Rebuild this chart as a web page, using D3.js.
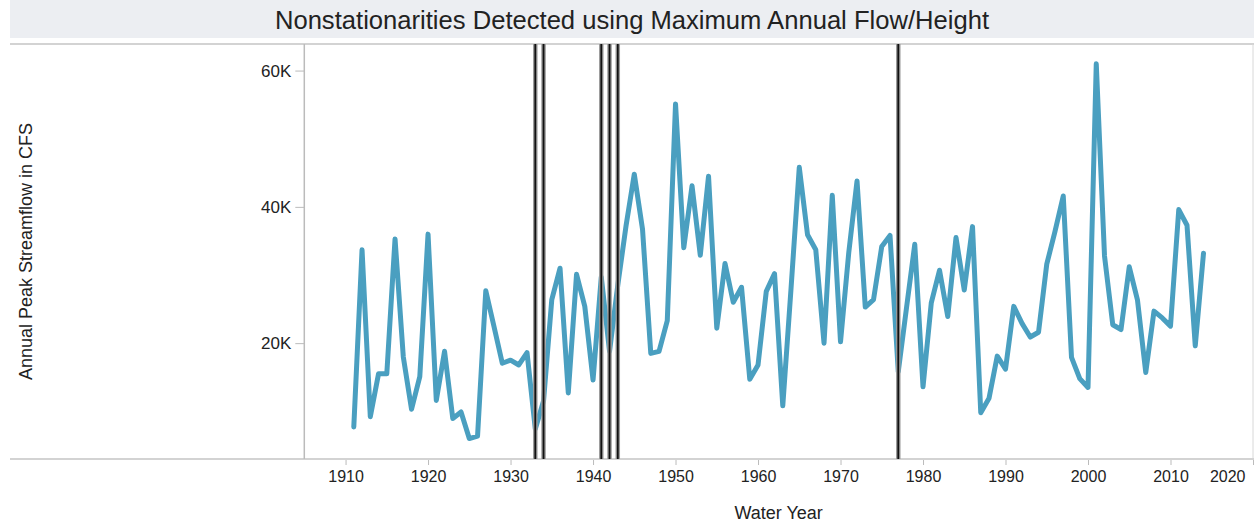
<!DOCTYPE html>
<html>
<head>
<meta charset="utf-8">
<script src="https://cdn.jsdelivr.net/npm/d3@7"></script>
<style>
  body { margin: 0; background: #fff; }
  svg text { font-family: Arial, "Liberation Sans", sans-serif; fill: #222; }
</style>
</head>
<body>
<div id="chart"></div>
<script>
// water years and annual peak streamflow (cfs)
const years = [];
for (let yr = 1911; yr <= 2014; yr++) years.push(yr);

const peaks = [
  7700, 33700, 9200, 15500, 15500, 35300, 18000, 10300, 15100, 36000,  // 1911-1920
  11600, 18800, 8950, 9900, 6000, 6350, 27700, 22400, 17050, 17500,    // 1921-1930
  16800, 18600, 7400, 11500, 26400, 31000, 12700, 30100, 25400, 14600, // 1931-1940
  29700, 18800, 28500, 37200, 44800, 36700, 18500, 18800, 23300, 55100, // 1941-1950
  34000, 43100, 32900, 44500, 22200, 31700, 26000, 28200, 14700, 16800, // 1951-1960
  27600, 30200, 10800, 28000, 45800, 35900, 33700, 20000, 41700, 20200, // 1961-1970
  33300, 43800, 25300, 26400, 34200, 35800, 15800, 25200, 34500, 13600, // 1971-1980
  25900, 30700, 23900, 35500, 27800, 37100, 9800, 11900, 18100, 16200,  // 1981-1990
  25400, 22900, 20900, 21600, 31600, 36400, 41600, 17900, 14800, 13500, // 1991-2000
  61000, 32800, 22700, 22000, 31200, 26300, 15700, 24700, 23700, 22500, // 2001-2010
  39600, 37300, 19600, 33200                                             // 2011-2014
];

// years where a nonstationarity was detected
const changeYears = [1933, 1934, 1941, 1942, 1943, 1977];

const xTicks = [1910, 1920, 1930, 1940, 1950, 1960, 1970, 1980, 1990, 2000, 2010, 2020];
const yTicks = [20000, 40000, 60000];

const data = years.map((yr, i) => ({year: yr, value: peaks[i]}));

const width = 1254;
const height = 523;
// pane edges
const paneLeft = 304.3, paneRight = 1253, paneTop = 44, paneBottom = 459;

const svg = d3.select("#chart")
  .append("svg")
  .attr("width", width)
  .attr("height", height);

// title band
svg.append("rect")
  .attr("x", 10).attr("y", 0)
  .attr("width", width - 10).attr("height", 38)
  .attr("fill", "#eceef2");

svg.append("text")
  .attr("x", (10 + width) / 2)
  .attr("y", 20)
  .attr("text-anchor", "middle")
  .attr("dominant-baseline", "central")
  .attr("font-size", "25.6px")
  .text("Nonstationarities Detected using Maximum Annual Flow/Height");

// scales
const x = d3.scaleLinear().domain([1905, 2020]).range([paneLeft, paneRight]);
const y = d3.scaleLinear().domain([3000, 63900]).range([paneBottom, paneTop]);

// pane borders
svg.append("line")
  .attr("x1", 10).attr("x2", width)
  .attr("y1", paneTop).attr("y2", paneTop)
  .attr("stroke", "#d3d3d3").attr("stroke-width", 2);

svg.append("line")
  .attr("x1", x(2020)).attr("x2", x(2020))
  .attr("y1", paneTop).attr("y2", paneBottom)
  .attr("stroke", "#d8d8d8").attr("stroke-width", 1);

// x axis
const xAxis = svg.append("g")
  .attr("transform", `translate(0,${paneBottom})`)
  .call(d3.axisBottom(x).tickValues(xTicks).tickFormat(d3.format("d")).tickSize(6).tickPadding(6));

xAxis.select(".domain").remove();
xAxis.selectAll(".tick line").attr("stroke", "#bbb");
xAxis.selectAll(".tick text")
  .attr("font-size", "16px")
  .attr("font-family", null)
  .attr("fill", "#222");
// last label is pushed in so it stays inside the view
xAxis.selectAll(".tick text")
  .filter(d => d === 2020)
  .attr("text-anchor", "end")
  .attr("dx", -8);

svg.append("line")
  .attr("x1", 10).attr("x2", width)
  .attr("y1", paneBottom).attr("y2", paneBottom)
  .attr("stroke", "#d3d3d3").attr("stroke-width", 2);

// y axis
const yAxis = svg.append("g")
  .attr("transform", `translate(${paneLeft},0)`)
  .call(d3.axisLeft(y).tickValues(yTicks).tickFormat(d => (d / 1000) + "K").tickSize(9).tickPadding(4));

yAxis.select(".domain")
  .attr("d", `M0,${paneTop}V${paneBottom}`)
  .attr("stroke", "#bbb")
  .attr("stroke-width", 1.5);
yAxis.selectAll(".tick line").attr("stroke", "#bbb");
yAxis.selectAll(".tick text")
  .attr("font-size", "17px")
  .attr("font-family", null)
  .attr("fill", "#222");

// axis titles
svg.append("text")
  .attr("x", (paneLeft + paneRight) / 2)
  .attr("y", 513)
  .attr("text-anchor", "middle")
  .attr("dominant-baseline", "central")
  .attr("font-size", "18px")
  .text("Water Year");

svg.append("text")
  .attr("transform", `translate(26,${(paneTop + paneBottom) / 2}) rotate(-90)`)
  .attr("text-anchor", "middle")
  .attr("dominant-baseline", "central")
  .attr("font-size", "18px")
  .text("Annual Peak Streamflow in CFS");

// flow line
const line = d3.line()
  .x(d => x(d.year))
  .y(d => y(d.value));

svg.append("path")
  .datum(data)
  .attr("d", line)
  .attr("fill", "none")
  .attr("stroke", "#4a9fc0")
  .attr("stroke-width", 5)
  .attr("stroke-linejoin", "round")
  .attr("stroke-linecap", "round");

// change point markers: grey halo with a dark core
const marks = svg.selectAll(".change")
  .data(changeYears)
  .enter()
  .append("g")
  .attr("class", "change");

marks.append("line")
  .attr("x1", d => x(d)).attr("x2", d => x(d))
  .attr("y1", paneTop).attr("y2", paneBottom)
  .attr("stroke", "#9a9a9a")
  .attr("stroke-width", 4.5);

marks.append("line")
  .attr("x1", d => x(d)).attr("x2", d => x(d))
  .attr("y1", paneTop).attr("y2", paneBottom)
  .attr("stroke", "#111")
  .attr("stroke-width", 1.8);
</script>
</body>
</html>
